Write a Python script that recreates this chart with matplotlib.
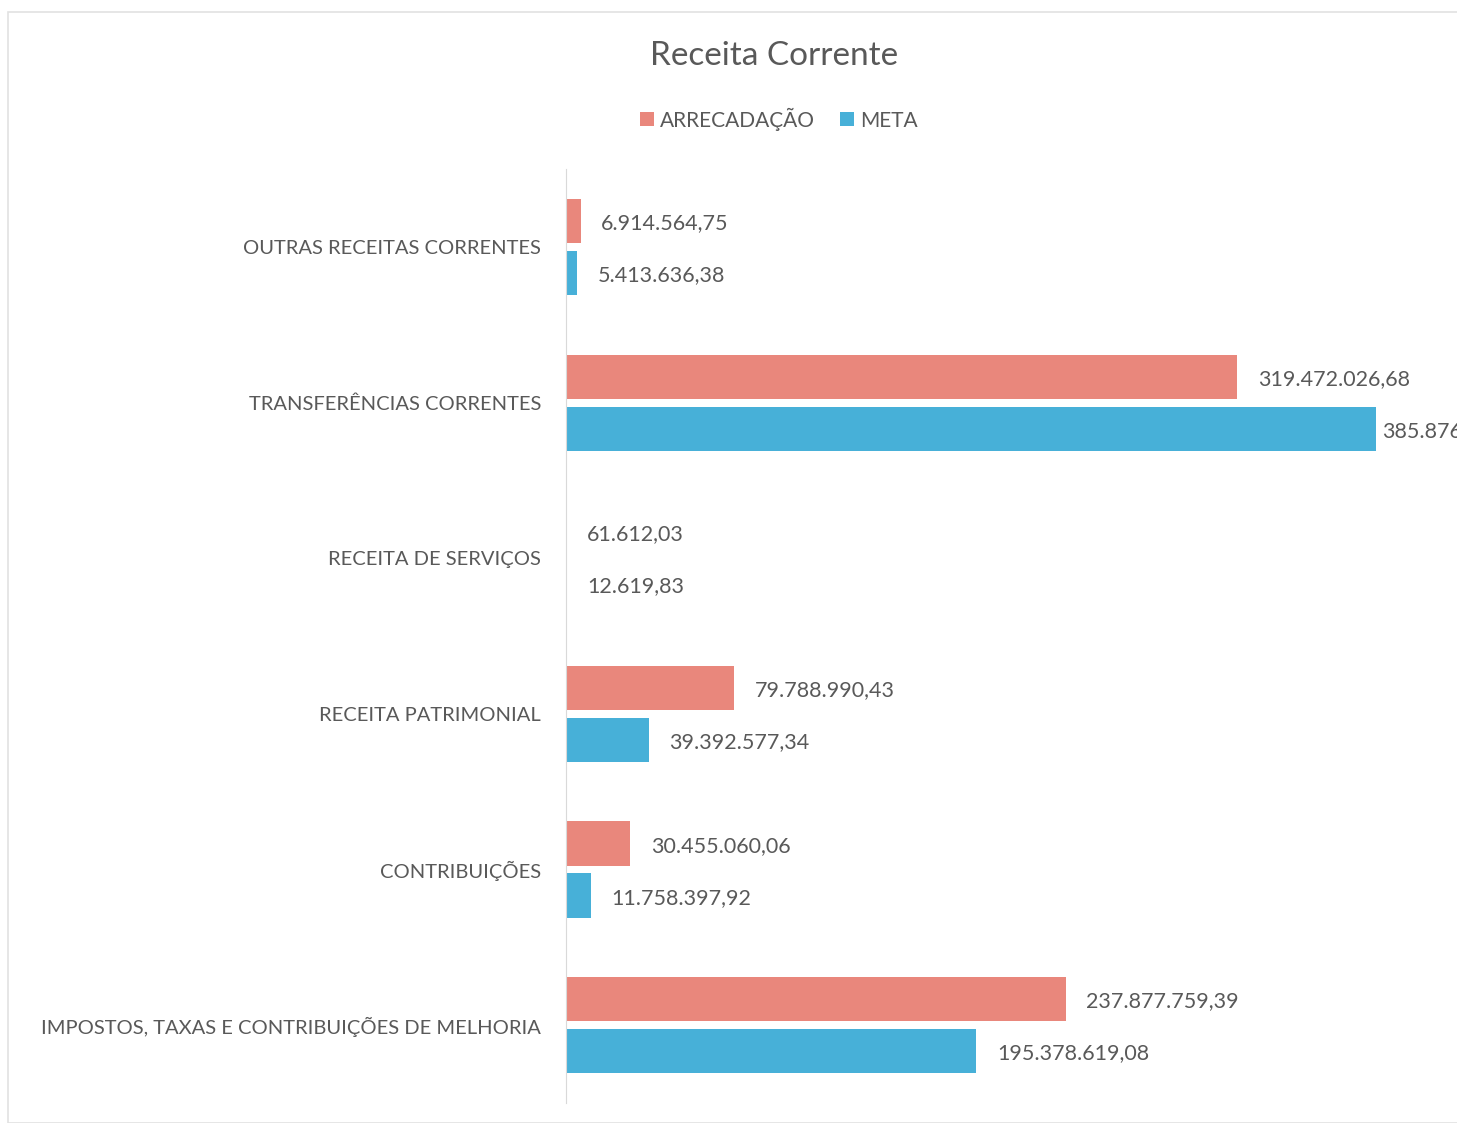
import numpy as np
import matplotlib.pyplot as plt
from matplotlib.patches import Rectangle

plt.rcParams['font.family'] = ['Lato', 'DejaVu Sans']

# data (bottom to top as drawn)
categorias = ['IMPOSTOS, TAXAS E CONTRIBUIÇÕES DE MELHORIA', 'CONTRIBUIÇÕES',
              'RECEITA PATRIMONIAL', 'RECEITA DE SERVIÇOS',
              'TRANSFERÊNCIAS CORRENTES', 'OUTRAS RECEITAS CORRENTES']
arrecadacao = [237877759.39, 30455060.06, 79788990.43, 61612.03, 319472026.68, 6914564.75]
meta = [195378619.08, 11758397.92, 39392577.34, 12619.83, 385876000.00, 5413636.38]

cor_arr = '#E9877C'
cor_meta = '#47B0D8'
cinza = '#595959'


def fmt(v):
    s = '{:,.2f}'.format(v)
    return s.replace(',', '#').replace('.', ',').replace('#', '.')


W, H = 1457, 1123
fig = plt.figure(figsize=(W / 100, H / 100), dpi=100)
fig.patches.append(Rectangle((8 / W, 0), 1.2, 1 - 12 / H, transform=fig.transFigure,
                             fill=False, edgecolor='#e2e2e2', linewidth=1.2))

ax = fig.add_axes([566 / W, 1 - 1103 / H, (W - 566) / W, 933.6 / H])
y = np.arange(len(categorias))
h = 0.285
off = 0.167
ax.barh(y + off, arrecadacao, height=h, color=cor_arr, label='ARRECADAÇÃO')
ax.barh(y - off, meta, height=h, color=cor_meta, label='META')

xmax = (W - 566) / 2.1004 * 1e6
for i in range(len(categorias)):
    ax.annotate(fmt(arrecadacao[i]), (arrecadacao[i], y[i] + off), xytext=(15, -1.5),
                textcoords='offset points', va='center', ha='left', fontsize=15.5, color=cinza)
    # label that would overflow is pulled close to the bar, as in the source
    dx = 4 if meta[i] > 0.85 * xmax else 15
    ax.annotate(fmt(meta[i]), (meta[i], y[i] - off), xytext=(dx, -1.5),
                textcoords='offset points', va='center', ha='left', fontsize=15.5, color=cinza)

ax.set_xlim(0, xmax)
ax.set_ylim(-0.5, 5.5)
ax.set_yticks(y)
ax.set_yticklabels(categorias, fontsize=14.5, color=cinza)
ax.tick_params(axis='y', length=0, pad=18)
ax.set_xticks([])
for s in ['top', 'right', 'bottom']:
    ax.spines[s].set_visible(False)
ax.spines['left'].set_color('#d9d9d9')

fig.text(774 / W, 1 - 56 / H, 'Receita Corrente', ha='center', va='center',
         fontsize=24, color=cinza)
fig.legend(loc='center', bbox_to_anchor=(779 / W, 1 - 119 / H), ncol=2, frameon=False,
           fontsize=15, handlelength=0.65, handleheight=0.65, handletextpad=0.3,
           columnspacing=1.2, labelcolor=cinza)

fig.savefig('out.png', dpi=100)
